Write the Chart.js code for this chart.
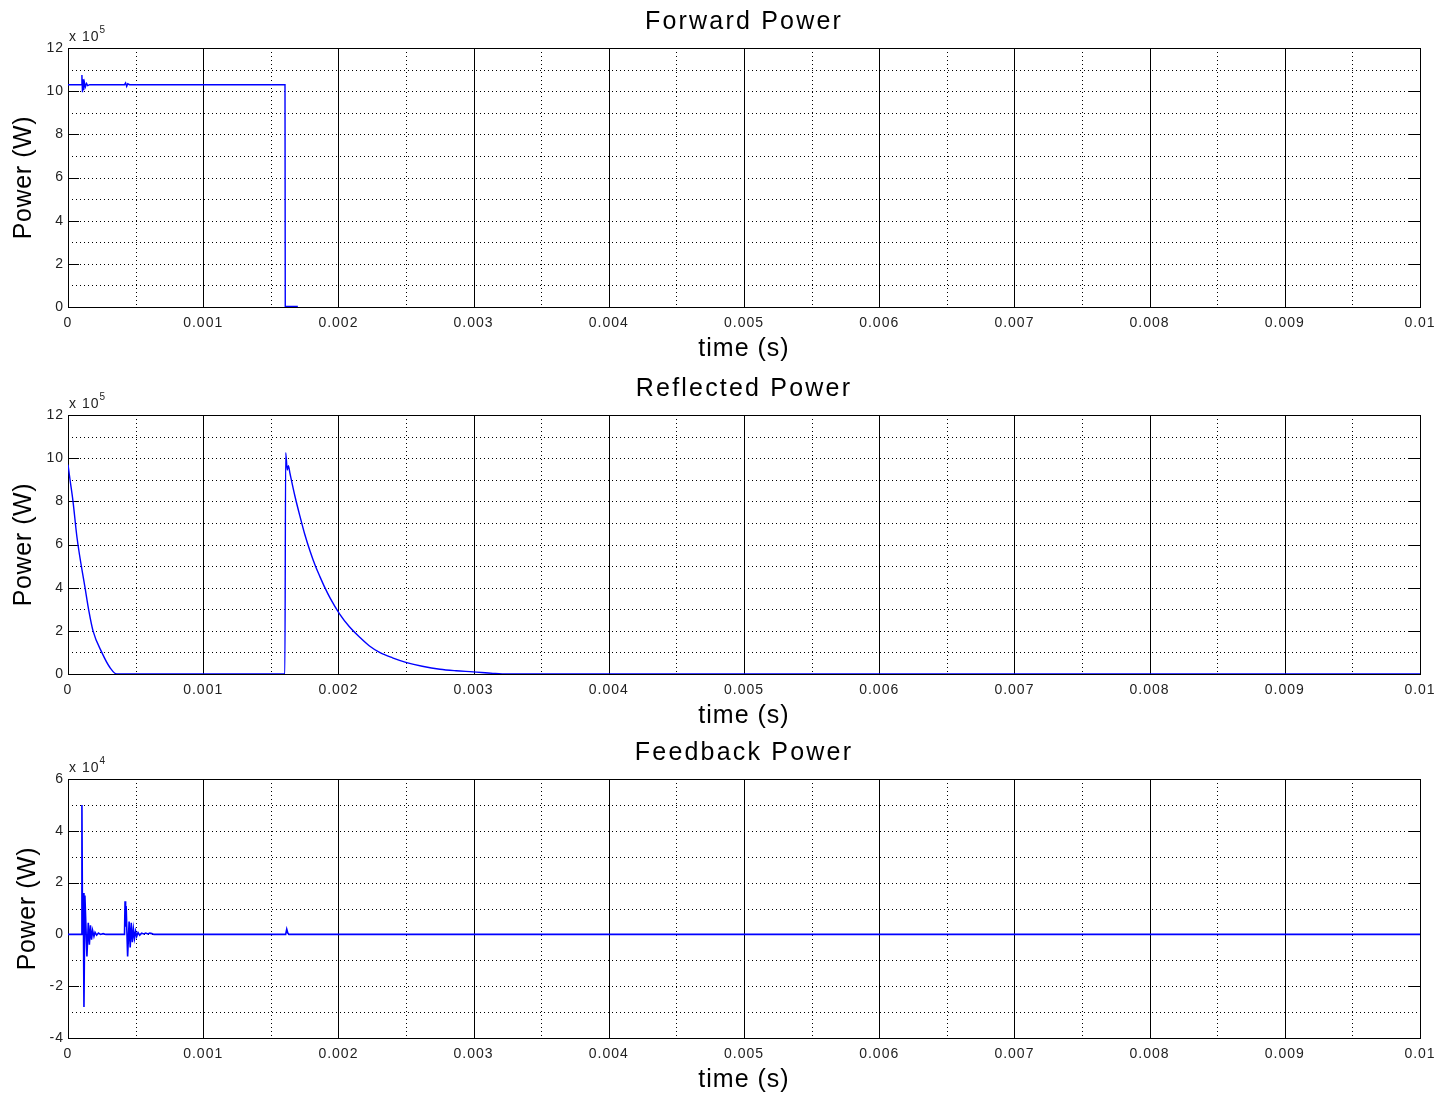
<!DOCTYPE html>
<html>
<head>
<meta charset="utf-8">
<title>Forward, Reflected and Feedback Power</title>
<script src="https://cdn.jsdelivr.net/npm/chart.js@4.4.1/dist/chart.umd.min.js"></script>
<style>
  body { margin: 0; background: #fff; width: 1443px; height: 1094px; overflow: hidden; position: relative; }
  canvas { position: absolute; left: 0; }
</style>
</head>
<body>
<canvas id="chartForward" width="1443" height="363" style="top:0px"></canvas>
<canvas id="chartReflected" width="1443" height="363" style="top:367px"></canvas>
<canvas id="chartFeedback" width="1443" height="363" style="top:731px"></canvas>
<script>
// time axis, seconds
const xTicks = [0, 0.001, 0.002, 0.003, 0.004, 0.005, 0.006, 0.007, 0.008, 0.009, 0.01];
const xTickLabels = ['0', '0.001', '0.002', '0.003', '0.004', '0.005', '0.006', '0.007', '0.008', '0.009', '0.01'];

// Forward power (x 10^5 W)
const fwdTime = [0, 0.0000990, 0.0001030, 0.0001070, 0.0001110, 0.0001160, 0.0001220, 0.0001290, 0.0001370,
  0.0001460, 0.0001600, 0.0004180, 0.0004260, 0.0004340, 0.0004420, 0.0004550, 0.0016050, 0.0016070, 0.0017000];
const fwdPower = [10.3, 10.3, 10.75, 9.95, 10.55, 10.05, 10.4, 10.2, 10.36,
  10.26, 10.3, 10.3, 10.38, 10.22, 10.34, 10.3, 10.3, 0.03, 0.03];
const fwdYTicks = [0, 2, 4, 6, 8, 10, 12];

// Reflected power (x 10^5 W)
const refTime = [0, 0.000015, 0.000037, 0.000067, 0.000126, 0.000155, 0.000185, 0.000250, 0.000310, 0.000360,
  0.001604, 0.001610, 0.001622, 0.001630, 0.001642, 0.001680, 0.001716, 0.001750, 0.001790, 0.001830,
  0.001864, 0.001900, 0.001940, 0.002007, 0.002080, 0.002160, 0.002230, 0.002308, 0.002400, 0.002505,
  0.002620, 0.002751, 0.002870, 0.002996, 0.003143, 0.003250, 0.010000];
const refPower = [9.7, 9.0, 8.0, 6.3, 4.0, 2.9, 2.0, 1.0, 0.3, 0.0,
  0.0, 10.25, 9.45, 9.65, 9.29, 8.2, 7.3, 6.5, 5.7, 5.0,
  4.5, 4.0, 3.5, 2.8, 2.2, 1.69, 1.3, 0.99, 0.75, 0.53,
  0.36, 0.22, 0.15, 0.1, 0.03, 0.0, 0.0];
const refYTicks = [0, 2, 4, 6, 8, 10, 12];

// Feedback power (x 10^4 W)
const fbTime = [0, 0.000100, 0.000103, 0.000106, 0.000110, 0.000113, 0.000118, 0.000125, 0.000140, 0.000150,
  0.000158, 0.000166, 0.000174, 0.000182, 0.000192, 0.000200, 0.000212, 0.000225, 0.000240, 0.000260, 0.000280,
  0.000418, 0.000422, 0.000426, 0.000430, 0.000441, 0.000452, 0.000460, 0.000468, 0.000476, 0.000484,
  0.000492, 0.000500, 0.000508, 0.000518, 0.000530, 0.000545, 0.000560, 0.000575, 0.000590, 0.000605,
  0.000620, 0.000635, 0.001610, 0.001618, 0.001626, 0.001634, 0.010000];
const fbPower = [0, 0, 5.0, 1.6, 0.2, 1.6, -2.8, 1.5, -0.85, 0.45,
  -0.4, 0.35, -0.2, 0.15, -0.08, 0.08, -0.03, 0.05, 0.0, 0.03, 0,
  0, 1.28, 0.3, 1.1, -0.85, 0.5, -0.5, 0.45, -0.3, 0.2,
  -0.15, 0.12, -0.08, 0.07, -0.03, 0.05, 0.02, 0.05, 0.02, 0.05,
  0.03, 0, 0, 0.2, 0.05, 0, 0];
const fbYTicks = [-4, -2, 0, 2, 4, 6];

const FONT = '"Liberation Sans", Arial, Helvetica, sans-serif';

function toPoints(ts, vs) {
  return ts.map((t, i) => ({ x: t, y: vs[i] }));
}

// matlab style axes: dotted grid, solid major time lines, inward ticks, labels
const matlabAxes = {
  id: 'matlabAxes',
  beforeDraw(chart) {
    // the picture is a bit wide, tick text gets some extra spacing
    chart.ctx.letterSpacing = '1px';
  },
  beforeDatasetsDraw(chart, args, o) {
    const { ctx, chartArea: a, scales: { x, y } } = chart;
    const hLine = py => { ctx.beginPath(); ctx.moveTo(a.left, py); ctx.lineTo(a.right, py); ctx.stroke(); };
    const vLine = px => { ctx.beginPath(); ctx.moveTo(px, a.top); ctx.lineTo(px, a.bottom); ctx.stroke(); };
    const snap = p => Math.round(p) + 0.5;
    ctx.save();
    ctx.lineWidth = 1;
    ctx.strokeStyle = '#000';
    ctx.setLineDash([1, 3]);
    for (let v = y.min + o.yMinor; v < y.max - 1e-9; v += o.yMinor) hLine(snap(y.getPixelForValue(v)));
    for (let i = 0; i < xTicks.length - 1; i++) vLine(snap(x.getPixelForValue((xTicks[i] + xTicks[i + 1]) / 2)));
    ctx.setLineDash([]);
    xTicks.slice(1, -1).forEach(v => vLine(snap(x.getPixelForValue(v))));
    ctx.strokeRect(snap(a.left), snap(a.top), Math.round(a.width), Math.round(a.height));
    y.ticks.forEach(t => {
      const py = snap(y.getPixelForValue(t.value));
      ctx.beginPath();
      ctx.moveTo(a.left, py); ctx.lineTo(a.left + 11, py);
      ctx.moveTo(a.right, py); ctx.lineTo(a.right - 11, py);
      ctx.stroke();
    });
    ctx.restore();
  },
  afterDraw(chart, args, o) {
    const { ctx, chartArea: a } = chart;
    const cx = (a.left + a.right) / 2;
    ctx.save();
    ctx.fillStyle = '#000';
    ctx.textBaseline = 'alphabetic';
    ctx.textAlign = 'center';
    ctx.font = '25px ' + FONT;
    ctx.letterSpacing = '2.2px';
    ctx.fillText(o.title, cx, a.top - 19);
    ctx.letterSpacing = '1px';
    ctx.fillText('time (s)', cx, a.bottom + 49);
    // y label
    ctx.save();
    ctx.translate(o.yLabelX, (a.top + a.bottom) / 2);
    ctx.rotate(-Math.PI / 2);
    ctx.letterSpacing = '0.6px';
    ctx.textBaseline = 'middle';
    ctx.fillText('Power (W)', 0, 0);
    ctx.restore();
    // exponent
    ctx.letterSpacing = '1px';
    ctx.textAlign = 'left';
    ctx.fillStyle = '#222';
    ctx.font = '14px ' + FONT;
    const base = 'x 10';
    ctx.fillText(base, a.left + 1, a.top - 7);
    const w = ctx.measureText(base).width;
    ctx.font = '10px ' + FONT;
    ctx.fillText(o.exponent, a.left + 1 + w, a.top - 15);
    ctx.restore();
  }
};

function makeChart(id, time, values, yTicks, opts) {
  const ctx = document.getElementById(id).getContext('2d');
  return new Chart(ctx, {
    type: 'line',
    data: {
      datasets: [{
        data: toPoints(time, values),
        borderColor: '#0000ff',
        borderWidth: opts.lineWidth || 1.4,
        pointRadius: 0,
        fill: false,
        cubicInterpolationMode: opts.smooth ? 'monotone' : 'default',
        tension: 0
      }]
    },
    options: {
      responsive: false,
      animation: false,
      events: [],
      layout: { padding: { top: 48, right: 23, left: 0, bottom: 0 } },
      plugins: {
        legend: { display: false },
        tooltip: { enabled: false },
        title: { display: false },
        matlabAxes: {
          title: opts.title,
          exponent: opts.exponent,
          yMinor: 1,
          yLabelX: opts.yLabelX
        }
      },
      scales: {
        x: {
          type: 'linear',
          min: 0,
          max: 0.01,
          grid: { display: false },
          border: { display: false },
          afterFit: s => { s.height = 56; },
          afterBuildTicks: s => { s.ticks = xTicks.map(v => ({ value: v })); },
          ticks: {
            autoSkip: false,
            maxRotation: 0,
            padding: 0,
            color: '#222',
            font: { family: FONT, size: 14 },
            callback: (v, i) => xTickLabels[i]
          }
        },
        y: {
          type: 'linear',
          min: yTicks[0],
          max: yTicks[yTicks.length - 1],
          grid: { display: false, drawTicks: false },
          border: { display: false },
          afterFit: s => { s.width = 68; },
          afterBuildTicks: s => { s.ticks = yTicks.map(v => ({ value: v })); },
          ticks: {
            padding: 4,
            color: '#222',
            font: { family: FONT, size: 14 },
            callback: v => String(v)
          }
        }
      }
    },
    plugins: [matlabAxes]
  });
}

makeChart('chartForward', fwdTime, fwdPower, fwdYTicks,
  { title: 'Forward Power', exponent: '5', yLabelX: 24 });
makeChart('chartReflected', refTime, refPower, refYTicks,
  { title: 'Reflected Power', exponent: '5', yLabelX: 24, smooth: true });
makeChart('chartFeedback', fbTime, fbPower, fbYTicks,
  { title: 'Feedback Power', exponent: '4', yLabelX: 28, lineWidth: 1.6 });
</script>
</body>
</html>
